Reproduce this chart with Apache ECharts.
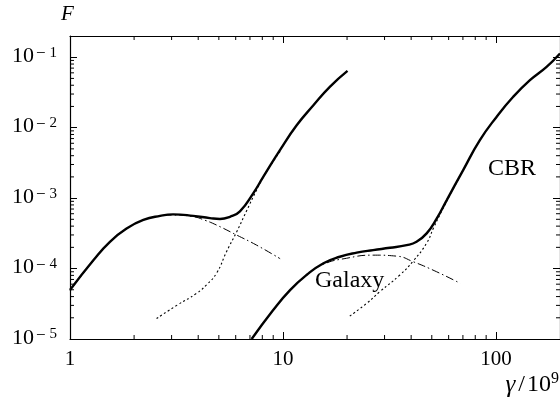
<!DOCTYPE html>
<html><head><meta charset="utf-8">
<script src="https://cdn.jsdelivr.net/npm/echarts@6/dist/echarts.min.js"></script>
<style>html,body{margin:0;padding:0;background:#fff}#c{width:560px;height:401px}</style>
</head><body><div id="c"></div>
<script>
// ---- data ----
const total1X = [1, 1.29, 1.54, 1.85, 2.21, 2.65, 3.05, 3.79, 4.54, 5.06, 5.64, 6.28, 7.25, 8.08, 9.68, 11.6, 13.9, 16.6, 20.1];
const total1Y = [4.95e-5, 1.32e-4, 2.4e-4, 3.72e-4, 4.9e-4, 5.6e-4, 5.87e-4, 5.6e-4, 5.2e-4, 5.05e-4, 5.43e-4, 6.5e-4, 1.17e-3, 2.0e-3, 4.8e-3, 1.08e-2, 2.08e-2, 3.8e-2, 6.4e-2];
const gal1X = [1, 1.29, 1.54, 1.85, 2.21, 2.65, 3.05, 3.79, 4.3, 4.88, 6.06, 7.52, 9.7];
const gal1Y = [4.9e-5, 1.3e-4, 2.38e-4, 3.7e-4, 4.86e-4, 5.55e-4, 5.75e-4, 5.45e-4, 4.85e-4, 4.14e-4, 2.99e-4, 2.15e-4, 1.38e-4];
const cbr1X = [2.55, 3.17, 3.93, 4.38, 4.88, 5.44, 6.06, 6.75, 7.52, 8.4, 9.7];
const cbr1Y = [1.95e-5, 3.0e-5, 4.45e-5, 5.9e-5, 8.6e-5, 1.75e-4, 3.3e-4, 6.6e-4, 1.3e-3, 2.4e-3, 4.6e-3];
const total2X = [7.13, 9.0, 10.8, 12.9, 15.5, 18.5, 22.2, 26.5, 31.8, 38.1, 42.4, 47.3, 52.7, 58.7, 70.2, 84.1, 100.7, 120.6, 144.5, 173, 200];
const total2Y = [1e-5, 2.58e-5, 4.95e-5, 8.1e-5, 1.19e-4, 1.47e-4, 1.68e-4, 1.83e-4, 1.97e-4, 2.15e-4, 2.4e-4, 3.16e-4, 5.1e-4, 9.3e-4, 2.5e-3, 6.65e-3, 1.42e-2, 2.74e-2, 4.72e-2, 7.3e-2, 0.113];
const gal2X = [7.13, 9.0, 10.8, 12.9, 15.5, 19.9, 26.5, 34.2, 40.9, 52.7, 67.8];
const gal2Y = [1e-5, 2.58e-5, 4.9e-5, 8.0e-5, 1.15e-4, 1.4e-4, 1.55e-4, 1.5e-4, 1.25e-4, 9.0e-5, 6.2e-5];
const cbr2X = [20.6, 24.7, 28.5, 35.4, 40.9, 47.3, 51, 55.6, 60.8, 70.2];
const cbr2Y = [2.12e-5, 3.2e-5, 4.7e-5, 8.1e-5, 1.28e-4, 2.3e-4, 3.8e-4, 6.5e-4, 1.1e-3, 2.5e-3];
const xTicks = [1, 10, 100];
const xTickLabels = ['1', '10', '100'];
const yTicks = [1e-5, 1e-4, 1e-3, 1e-2, 1e-1];
const yTickExps = ['5', '4', '3', '2', '1'];
const xMin = 1, xMax = 200, yMin = 1e-5, yMax = 0.2;

const FONT = '"Liberation Serif", "Times New Roman", serif';
const pairs = (xs, ys) => xs.map((x, i) => [x, ys[i]]);
const chart = echarts.init(document.getElementById('c'), null, {renderer: 'canvas'});
const axisLine = {show: true, lineStyle: {color: '#000', width: 1.2}};
const majorTick = (vals) => ({show: true, inside: true, length: 7, customValues: vals, lineStyle: {color: '#000', width: 1}});

function xAxisDef(pos, labels) {
  return {type: 'log', logBase: 10, min: xMin, max: xMax, position: pos, gridIndex: 0,
    axisLine, axisTick: majorTick(xTicks), splitLine: {show: false}, minorTick: {show: false},
    axisLabel: labels ? {show: true, customValues: xTicks, margin: 10, color: '#000', fontFamily: FONT, fontSize: 21,
      formatter: v => xTickLabels[xTicks.findIndex(t => Math.abs(Math.log10(t) - Math.log10(v)) < 1e-6)] || ''} : {show: false}};
}
function yAxisDef(pos, labels) {
  return {type: 'log', logBase: 10, min: yMin, max: yMax, position: pos, gridIndex: 0,
    axisLine, axisTick: majorTick(yTicks), splitLine: {show: false}, minorTick: {show: false},
    axisLabel: labels ? {show: true, customValues: yTicks, margin: 13, color: '#000', fontFamily: FONT,
      formatter: v => {
        const i = yTicks.findIndex(t => Math.abs(Math.log10(t) - Math.log10(v)) < 1e-6);
        return i < 0 ? '' : '{b|10}{m|\u2212}{s|' + yTickExps[i] + '}';
      },
      rich: {
        b: {fontFamily: FONT, fontSize: 22, color: '#000', lineHeight: 24, padding: [3, 0, 5, 0]},
        m: {fontFamily: FONT, fontSize: 17, color: '#000', verticalAlign: 'top', lineHeight: 12, padding: [0, 4, 0, 2]},
        s: {fontFamily: FONT, fontSize: 15, color: '#000', verticalAlign: 'top', lineHeight: 12}
      }} : {show: false}};
}

const solid = {color: '#000', width: 2.4};
const dashDot = {color: '#000', width: 1, type: [8, 3, 1.5, 3]};
const dotted = {color: '#000', width: 1.1, type: [2, 2.5]};
chart.setOption({
  animation: false,
  backgroundColor: '#fff',
  grid: {left: 70, top: 36, width: 491, height: 303, containLabel: false},
  xAxis: [xAxisDef('bottom', true), xAxisDef('top', false)],
  yAxis: [yAxisDef('left', true), yAxisDef('right', false)],
  series: [
    {type: 'line', data: pairs(total1X, total1Y), smooth: 0.5, symbol: 'none', lineStyle: solid, z: 5},
    {type: 'line', data: pairs(gal1X, gal1Y), smooth: 0.5, symbol: 'none', lineStyle: dashDot, z: 3},
    {type: 'line', data: pairs(cbr1X, cbr1Y), smooth: 0.5, symbol: 'none', lineStyle: dotted, z: 3},
    {type: 'line', data: pairs(total2X, total2Y), smooth: 0.5, symbol: 'none', lineStyle: solid, z: 5},
    {type: 'line', data: pairs(gal2X, gal2Y), smooth: 0.5, symbol: 'none', lineStyle: dashDot, z: 3},
    {type: 'line', data: pairs(cbr2X, cbr2Y), smooth: 0.5, symbol: 'none', lineStyle: dotted, z: 3}
  ]
});

// minor ticks (2..9 per decade) on all four sides, placed through the axis scales
const P = (x, y) => chart.convertToPixel({gridIndex: 0}, [x, y]);
const [L, B] = P(xMin, yMin);
const [R, T] = P(xMax, yMax);
const g = [];
const tickLine = (x1, y1, x2, y2) => g.push({type: 'line', silent: true, z: 10,
  shape: {x1, y1, x2, y2}, style: {stroke: '#000', lineWidth: 1}});
for (let k = 1; k <= 100; k *= 10) for (let m = 2; m <= 9; m++) {
  const v = m * k; if (v >= xMax) continue;
  const X = P(v, yMin)[0];
  tickLine(X, B, X, B - 4); tickLine(X, T, X, T + 4);
}
for (let e = -5; e <= -1; e++) for (let m = 2; m <= 9; m++) {
  const v = m * Math.pow(10, e); if (v >= yMax) continue;
  const Y = P(xMin, v)[1];
  tickLine(L, Y, L + 4, Y); tickLine(R, Y, R - 4, Y);
}
g.push({type: 'text', left: 61, top: 4, style: {text: 'F', font: 'italic 21px ' + FONT, fill: '#000'}});
g.push({type: 'text', z: 10, style: {x: 559, y: 399, textAlign: 'right', textVerticalAlign: 'bottom',
  text: '{g|\u03b3}{sl|/}{n|10}{s|9}',
  rich: {g: {fontFamily: FONT, fontStyle: 'italic', fontSize: 25, fill: '#000', lineHeight: 28},
         sl: {fontFamily: FONT, fontSize: 24, fill: '#000', lineHeight: 28, padding: [0, 2, 0, 3]},
         n: {fontFamily: FONT, fontSize: 24, fill: '#000', lineHeight: 28},
         s: {fontFamily: FONT, fontSize: 16, fill: '#000', verticalAlign: 'top', lineHeight: 12}}}});
g.push({type: 'text', z: 10, style: {x: 488, y: 169, textVerticalAlign: 'middle', text: 'CBR', font: '24px ' + FONT, fill: '#000'}});
g.push({type: 'text', z: 10, style: {x: 315, y: 281, textVerticalAlign: 'middle', text: 'Galaxy', font: '24px ' + FONT, fill: '#000'}});
chart.setOption({graphic: g});
</script></body></html>
